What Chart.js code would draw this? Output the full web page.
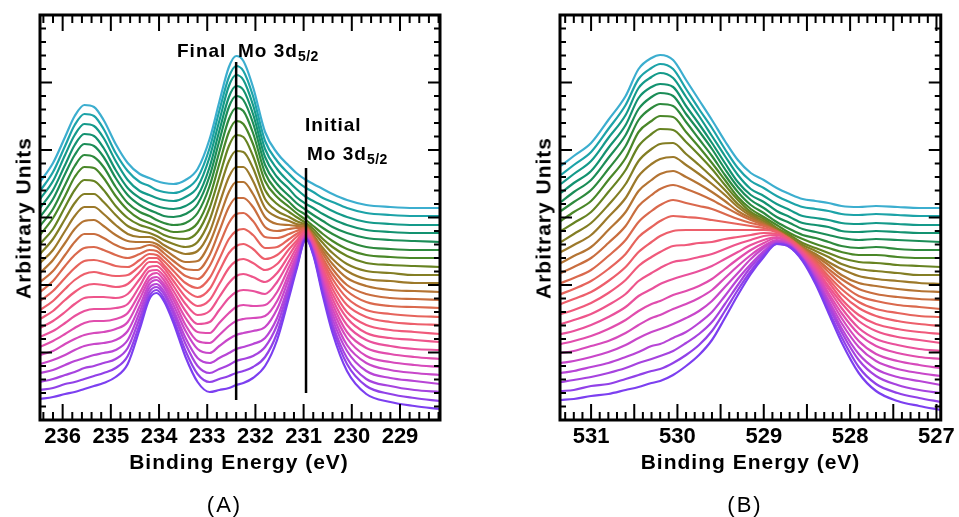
<!DOCTYPE html>
<html>
<head>
<meta charset="utf-8">
<script src="https://cdn.jsdelivr.net/npm/chart.js@4.4.0/dist/chart.umd.min.js"></script>
<style>
  body { margin: 0; background: #fff; font-family: "Liberation Sans", Arial, sans-serif; }
  #page { position: relative; width: 959px; height: 517px; overflow: hidden; }
  canvas { position: absolute; top: 0; }
  .t { position: absolute; transform: translate(-50%, -50%); white-space: nowrap; line-height: 1;
       font-weight: bold; font-size: 21px; letter-spacing: 1px; color: #000; }
  .yl { transform: translate(-50%, -50%) rotate(-90deg); }
  .pl { font-weight: normal; font-size: 22px; letter-spacing: 2px; }
  .ann { position: absolute; white-space: nowrap; line-height: 1; font-weight: bold; font-size: 19px;
         letter-spacing: 1px; color: #000; }
  .sub { font-size: 14px; position: relative; top: 4px; letter-spacing: 0.5px; }
</style>
</head>
<body>
<div id="page">
  <canvas id="chartA" width="480" height="517" style="left:0"></canvas>
  <canvas id="chartB" width="479" height="517" style="left:480px"></canvas>

  <div class="t yl" style="left:22.5px;top:218px">Arbitrary Units</div>
  <div class="t yl" style="left:542.5px;top:218px">Arbitrary Units</div>
  <div class="t" style="left:239px;top:461px">Binding Energy (eV)</div>
  <div class="t" style="left:750.5px;top:461px">Binding Energy (eV)</div>
  <div class="t pl" style="left:224.5px;top:505px">(A)</div>
  <div class="t pl" style="left:745px;top:505px">(B)</div>

  <div class="ann" style="left:177px;top:41px">Final</div>
  <div class="ann" style="left:238px;top:41px">Mo 3d<span class="sub">5/2</span></div>
  <div class="ann" style="left:305px;top:115px">Initial</div>
  <div class="ann" style="left:307px;top:144px">Mo 3d<span class="sub">5/2</span></div>
</div>

<script>
const energyA = [236.47, 236.2, 235.95, 235.75, 235.55, 235.35, 235.15, 234.9, 234.65, 234.4,
                 234.2, 234.05, 233.9, 233.7, 233.45, 233.2, 232.95, 232.75, 232.55, 232.4,
                 232.25, 232.05, 231.8, 231.55, 231.3, 231.15, 230.95, 230.8, 230.6, 230.4,
                 230.1, 229.7, 229.2, 228.7, 228.17];
const energyB = [531.35, 531.2, 531.0, 530.8, 530.6, 530.45, 530.3, 530.2, 530.05, 529.9,
                 529.75, 529.6, 529.45, 529.3, 529.15, 529.0, 528.85, 528.7, 528.55, 528.4,
                 528.25, 528.1, 527.9, 527.7, 527.45, 527.2, 526.95];

// tick labels on the energy axes
const ticksA = [236, 235, 234, 233, 232, 231, 230, 229];
const ticksB = [531, 530, 529, 528, 527];

// Mo 3d spectra, stacked (first row = bottom trace), arbitrary units
const spectraA = [
  [21, 23, 26, 28, 31, 34, 37, 43, 56, 91, 121, 127, 119, 97, 63, 38, 28, 30, 32, 35, 37, 42, 54, 80, 123, 150, 181, 165, 124, 87, 49, 26, 18, 14, 11],
  [30, 32, 36, 38, 41, 44, 47, 52, 64, 96, 124, 130, 122, 101, 69, 46, 38, 41, 44, 47, 49, 53, 63, 87, 127, 152, 181, 166, 127, 92, 56, 34, 26, 22, 19],
  [38, 41, 45, 48, 52, 54, 57, 61, 72, 102, 128, 133, 126, 106, 76, 54, 47, 51, 55, 59, 61, 64, 73, 95, 132, 155, 182, 167, 130, 96, 62, 41, 34, 30, 28],
  [47, 50, 55, 59, 62, 65, 67, 70, 80, 108, 132, 136, 129, 110, 82, 62, 57, 62, 67, 71, 73, 76, 82, 102, 136, 158, 182, 168, 133, 101, 69, 49, 42, 39, 36],
  [56, 60, 65, 70, 74, 76, 77, 80, 89, 114, 136, 140, 133, 115, 89, 71, 67, 74, 81, 85, 87, 89, 93, 111, 142, 161, 183, 169, 136, 106, 75, 57, 50, 47, 45],
  [65, 69, 76, 81, 85, 87, 88, 91, 98, 121, 140, 143, 136, 120, 95, 79, 77, 85, 94, 99, 101, 102, 104, 119, 147, 164, 184, 171, 139, 111, 82, 64, 58, 55, 53],
  [73, 79, 86, 92, 97, 99, 99, 101, 107, 127, 144, 147, 140, 124, 102, 88, 87, 97, 107, 113, 115, 114, 115, 128, 153, 168, 185, 172, 142, 116, 88, 72, 66, 63, 61],
  [83, 89, 97, 104, 109, 111, 111, 112, 116, 134, 149, 150, 144, 129, 109, 96, 98, 110, 122, 128, 130, 129, 126, 138, 159, 172, 186, 174, 146, 121, 95, 80, 74, 71, 70],
  [92, 99, 108, 116, 122, 123, 123, 122, 126, 141, 153, 154, 148, 134, 116, 105, 109, 123, 137, 144, 146, 143, 138, 147, 165, 176, 188, 175, 149, 126, 102, 87, 82, 80, 78],
  [101, 109, 120, 128, 134, 136, 135, 133, 136, 148, 158, 158, 152, 139, 123, 114, 120, 136, 152, 159, 161, 157, 150, 156, 171, 179, 189, 177, 152, 131, 108, 95, 90, 88, 86],
  [110, 119, 131, 140, 146, 148, 146, 144, 145, 154, 162, 162, 155, 144, 130, 123, 131, 149, 167, 174, 176, 171, 161, 165, 176, 183, 190, 179, 156, 136, 115, 103, 98, 96, 95],
  [119, 129, 142, 152, 159, 160, 158, 154, 153, 160, 166, 165, 159, 149, 137, 132, 142, 161, 181, 189, 191, 185, 172, 173, 181, 186, 191, 180, 159, 141, 122, 110, 106, 104, 103],
  [128, 139, 154, 165, 172, 173, 170, 165, 162, 166, 170, 169, 163, 154, 144, 141, 154, 175, 197, 206, 207, 199, 183, 182, 186, 189, 192, 181, 162, 146, 129, 118, 114, 113, 112],
  [138, 149, 165, 178, 186, 186, 182, 175, 171, 172, 175, 173, 167, 159, 151, 150, 165, 189, 213, 222, 222, 213, 193, 189, 191, 192, 192, 183, 166, 151, 135, 126, 122, 121, 120],
  [147, 160, 177, 191, 199, 200, 194, 185, 179, 178, 178, 176, 171, 164, 158, 159, 177, 202, 228, 238, 238, 226, 203, 196, 195, 194, 193, 184, 169, 156, 142, 134, 130, 129, 128],
  [157, 170, 189, 204, 213, 213, 206, 195, 186, 183, 183, 180, 175, 170, 166, 169, 188, 216, 243, 253, 253, 239, 212, 203, 199, 196, 194, 185, 172, 161, 149, 141, 139, 137, 137],
  [166, 181, 201, 217, 226, 226, 218, 205, 194, 189, 187, 184, 180, 176, 173, 178, 200, 230, 259, 269, 268, 252, 221, 209, 203, 199, 195, 188, 177, 167, 156, 149, 147, 145, 145],
  [176, 191, 213, 230, 240, 239, 230, 214, 202, 195, 192, 189, 185, 182, 181, 188, 212, 243, 274, 285, 283, 264, 230, 216, 208, 203, 197, 191, 181, 173, 164, 157, 155, 154, 153],
  [185, 202, 224, 243, 253, 252, 242, 224, 210, 201, 197, 194, 191, 188, 189, 197, 223, 256, 288, 299, 296, 276, 239, 223, 213, 207, 200, 194, 186, 179, 171, 165, 163, 162, 162],
  [194, 211, 235, 254, 265, 263, 253, 233, 217, 208, 204, 200, 197, 195, 197, 207, 234, 268, 301, 312, 309, 287, 247, 229, 218, 211, 205, 199, 192, 186, 179, 173, 171, 170, 170],
  [203, 221, 246, 265, 276, 274, 263, 242, 225, 215, 210, 207, 204, 203, 206, 216, 244, 279, 313, 324, 320, 297, 255, 236, 224, 217, 210, 205, 199, 193, 187, 182, 180, 179, 178],
  [212, 230, 255, 275, 286, 284, 272, 250, 232, 222, 217, 214, 212, 211, 214, 224, 253, 289, 323, 334, 330, 306, 263, 243, 231, 223, 216, 212, 206, 201, 195, 190, 188, 187, 187],
  [221, 239, 265, 285, 296, 294, 282, 259, 240, 229, 225, 222, 220, 219, 223, 233, 263, 299, 334, 345, 340, 315, 271, 251, 238, 231, 223, 219, 214, 209, 203, 198, 196, 195, 195],
  [229, 248, 274, 295, 306, 304, 291, 267, 249, 238, 234, 230, 228, 227, 231, 242, 272, 309, 343, 354, 349, 324, 279, 259, 246, 239, 232, 228, 222, 218, 212, 207, 205, 204, 204],
  [238, 257, 283, 304, 315, 313, 300, 276, 257, 246, 242, 239, 237, 236, 240, 251, 281, 318, 353, 364, 359, 333, 288, 267, 254, 247, 240, 236, 231, 226, 220, 215, 213, 212, 212]
];

// O 1s spectra, same stacking
const spectraB = [
  [20, 21, 24, 26, 30, 33, 37, 39, 45, 54, 65, 80, 102, 125, 146, 163, 176, 173, 159, 136, 107, 78, 47, 29, 19, 14, 10],
  [29, 30, 34, 36, 41, 45, 49, 51, 57, 65, 75, 89, 109, 130, 149, 165, 176, 173, 160, 138, 110, 83, 53, 36, 27, 22, 18],
  [38, 40, 43, 47, 52, 57, 61, 64, 69, 77, 86, 98, 116, 135, 153, 167, 177, 174, 161, 140, 114, 88, 60, 44, 35, 30, 27],
  [47, 49, 53, 57, 63, 68, 74, 76, 82, 88, 97, 108, 124, 141, 156, 169, 178, 174, 161, 142, 117, 92, 66, 51, 43, 39, 35],
  [57, 59, 63, 68, 75, 82, 88, 91, 96, 102, 109, 119, 133, 147, 161, 172, 179, 175, 162, 144, 120, 97, 73, 59, 51, 47, 44],
  [67, 69, 74, 79, 87, 95, 102, 105, 111, 116, 122, 130, 142, 154, 165, 174, 180, 176, 163, 146, 124, 102, 79, 66, 59, 55, 52],
  [76, 79, 84, 91, 100, 109, 116, 119, 125, 129, 134, 141, 151, 161, 170, 177, 182, 176, 164, 148, 127, 107, 86, 74, 67, 63, 61],
  [86, 89, 95, 103, 113, 124, 131, 136, 141, 145, 149, 154, 161, 168, 175, 180, 183, 177, 166, 150, 131, 112, 92, 81, 75, 71, 69],
  [96, 100, 106, 115, 126, 139, 147, 152, 158, 160, 163, 166, 171, 176, 180, 184, 185, 178, 167, 152, 134, 117, 99, 89, 83, 80, 77],
  [106, 110, 117, 127, 140, 154, 163, 168, 174, 175, 177, 178, 181, 183, 185, 187, 186, 179, 168, 154, 138, 121, 105, 96, 91, 88, 86],
  [116, 121, 128, 139, 153, 168, 178, 184, 189, 190, 190, 190, 190, 190, 190, 190, 188, 180, 169, 156, 141, 126, 112, 104, 99, 96, 94],
  [126, 131, 139, 151, 166, 183, 193, 199, 204, 203, 202, 200, 198, 196, 194, 192, 188, 181, 170, 158, 144, 131, 118, 111, 107, 104, 103],
  [137, 142, 150, 164, 180, 198, 209, 215, 220, 217, 214, 211, 206, 201, 197, 194, 189, 181, 171, 160, 148, 136, 124, 119, 115, 113, 111],
  [147, 153, 162, 177, 194, 214, 225, 231, 235, 231, 226, 220, 213, 206, 200, 195, 189, 181, 171, 162, 151, 141, 131, 126, 123, 121, 120],
  [157, 164, 173, 190, 208, 229, 240, 246, 249, 243, 236, 228, 219, 209, 202, 196, 189, 181, 172, 164, 155, 145, 137, 134, 131, 129, 128],
  [168, 175, 185, 203, 222, 244, 256, 261, 263, 255, 246, 236, 225, 213, 204, 197, 190, 182, 173, 166, 158, 151, 144, 141, 139, 137, 136],
  [178, 186, 197, 215, 236, 259, 271, 276, 277, 266, 255, 243, 230, 216, 206, 199, 191, 183, 175, 169, 163, 156, 151, 149, 147, 145, 145],
  [189, 197, 208, 228, 250, 274, 286, 291, 290, 278, 265, 251, 235, 220, 208, 201, 192, 185, 177, 172, 167, 162, 158, 157, 155, 154, 153],
  [199, 208, 219, 240, 262, 288, 299, 304, 303, 288, 273, 257, 240, 223, 211, 203, 195, 187, 181, 176, 172, 168, 165, 165, 163, 162, 162],
  [209, 218, 230, 251, 274, 300, 312, 316, 314, 298, 281, 264, 245, 228, 215, 207, 198, 191, 185, 182, 178, 174, 172, 173, 171, 170, 170],
  [218, 228, 240, 262, 285, 311, 323, 327, 324, 306, 289, 271, 251, 233, 220, 212, 203, 197, 191, 188, 185, 182, 180, 181, 180, 179, 178],
  [227, 237, 249, 272, 295, 322, 333, 336, 333, 314, 296, 277, 257, 238, 225, 218, 209, 203, 197, 195, 193, 189, 188, 189, 188, 187, 187],
  [236, 246, 259, 282, 305, 332, 343, 347, 342, 323, 304, 284, 264, 245, 231, 224, 216, 210, 204, 202, 200, 197, 196, 197, 196, 195, 195],
  [245, 255, 268, 291, 315, 341, 352, 356, 351, 331, 311, 292, 271, 252, 239, 232, 224, 218, 213, 211, 209, 206, 205, 206, 205, 204, 204],
  [254, 264, 277, 300, 324, 351, 362, 365, 360, 340, 320, 300, 279, 260, 247, 240, 232, 226, 221, 219, 217, 214, 213, 214, 213, 212, 212]
];

// marker lines in panel A: energy, and the height range they span
const markerEnergyA = [232.4, 230.95];
const markerFromA = [20, 27];
const markerToA = [358, 252];

const curveColors = [
  '#7c3ff0', '#9141e8', '#a643df', '#b845d6', '#c847ca', '#d64abc', '#e14dad', '#e9519c',
  '#ee558b', '#f05a7b', '#ed5f6b', '#e6645c', '#da694d', '#c96e3f', '#b47433', '#9c792a',
  '#837e24', '#678322', '#4a8728', '#2e8a3d', '#1b8d57', '#139270', '#149a8a', '#1ca3a8',
  '#3caecf'
];

// draws the frame, the inward tick marks and the marker lines
const axisDecor = {
  id: 'axisDecor',
  afterDatasetsDraw(chart, args, o) {
    const { ctx, chartArea: a, scales: { x, y } } = chart;
    ctx.save();
    ctx.strokeStyle = '#000';
    ctx.lineCap = 'butt';

    ctx.lineWidth = 2.5;
    (o.markers || []).forEach(m => {
      const px = x.getPixelForValue(m.e);
      ctx.beginPath();
      ctx.moveTo(px, y.getPixelForValue(m.from));
      ctx.lineTo(px, y.getPixelForValue(m.to));
      ctx.stroke();
    });

    ctx.lineWidth = 2;
    const lo = Math.min(x.min, x.max), hi = Math.max(x.min, x.max);
    for (let n = Math.ceil(lo / o.xMinor - 1e-6); n <= Math.floor(hi / o.xMinor + 1e-6); n++) {
      const v = n * o.xMinor;
      const r = v / o.xMajor;
      const len = Math.abs(r - Math.round(r)) < 1e-6 ? 16 : 8;
      const px = x.getPixelForValue(v);
      ctx.beginPath();
      ctx.moveTo(px, a.bottom); ctx.lineTo(px, a.bottom - len);
      ctx.moveTo(px, a.top); ctx.lineTo(px, a.top + len);
      ctx.stroke();
    }
    for (let n = 0; n * o.yMinor <= y.max + 1e-6; n++) {
      const len = n % 5 === 0 ? 12 : 6;
      const py = y.getPixelForValue(n * o.yMinor);
      ctx.beginPath();
      ctx.moveTo(a.left, py); ctx.lineTo(a.left + len, py);
      ctx.moveTo(a.right, py); ctx.lineTo(a.right - len, py);
      ctx.stroke();
    }

    ctx.lineWidth = 3;
    ctx.strokeRect(a.left, a.top, a.right - a.left, a.bottom - a.top);
    ctx.restore();
  }
};

function buildSets(energy, rows) {
  return rows.map((row, i) => ({
    data: row.map((v, k) => ({ x: energy[k], y: v })),
    borderColor: curveColors[i],
    borderWidth: 2.2,
    pointRadius: 0,
    fill: false,
    cubicInterpolationMode: 'monotone'
  }));
}

function makeChart(id, energy, rows, tickVals, xmin, xmax, pad, decor) {
  return new Chart(document.getElementById(id), {
    type: 'line',
    data: { datasets: buildSets(energy, rows) },
    options: {
      responsive: false,
      animation: false,
      events: [],
      layout: { padding: pad },
      plugins: { legend: { display: false }, tooltip: { enabled: false }, axisDecor: decor },
      scales: {
        x: {
          type: 'linear',
          reverse: true,
          min: xmin,
          max: xmax,
          afterBuildTicks: s => { s.ticks = tickVals.map(v => ({ value: v })); },
          afterFit: s => { s.height = 97; },
          ticks: {
            color: '#000',
            padding: 4,
            maxRotation: 0,
            autoSkip: false,
            font: { family: '"Liberation Sans", Arial, sans-serif', size: 22, weight: 'bold' },
            callback: v => String(v)
          },
          grid: { display: false, drawTicks: false },
          border: { display: false }
        },
        y: { display: false, min: 0, max: 405 }
      }
    },
    plugins: [axisDecor]
  });
}

makeChart('chartA', energyA, spectraA, ticksA, 228.17, 236.47,
  { left: 40, right: 40, top: 15, bottom: 0 },
  { xMinor: 0.2, xMajor: 1, yMinor: 13.5,
    markers: markerEnergyA.map((e, i) => ({ e, from: markerFromA[i], to: markerToA[i] })) });

makeChart('chartB', energyB, spectraB, ticksB, 526.95, 531.36,
  { left: 80, right: 17, top: 15, bottom: 0 },
  { xMinor: 0.1, xMajor: 0.5, yMinor: 13.5, markers: [] });
</script>
</body>
</html>
